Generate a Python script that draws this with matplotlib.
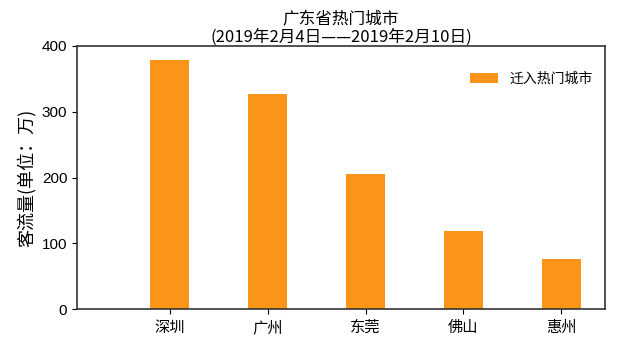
import matplotlib
matplotlib.use("Agg")
import matplotlib.pyplot as plt
import numpy as np

plt.rcParams['font.family'] = ['Noto Sans CJK SC', 'DejaVu Sans']
plt.rcParams['axes.unicode_minus'] = False

cities = ['深圳', '广州', '东莞', '佛山', '惠州']
visitors = [379, 327, 205, 119, 76]
yticks = [0, 100, 200, 300, 400]
title = '广东省热门城市\n(2019年2月4日——2019年2月10日)'
ylabel = '客流量(单位：万)'
legend_label = '迁入热门城市'

fig = plt.figure(figsize=(6.35, 3.45), dpi=100)
ax = fig.add_axes([0.1213, 0.1043, 0.8315, 0.7624])

x = np.arange(len(cities))
ax.bar(x, visitors, width=0.4, color='#FA951A', label=legend_label)

ax.set_xlim(-0.947, 4.446)
ax.set_ylim(0, 400)
ax.set_yticks(yticks)
ax.set_yticklabels([str(v) for v in yticks], fontsize=11,
                   family=['Liberation Sans', 'DejaVu Sans'])
ax.set_xticks(x)
ax.set_xticklabels(cities, fontsize=11)
ax.set_ylabel(ylabel, fontsize=13)
ax.set_title(title, fontsize=12, linespacing=1.05, pad=3)
for s in ax.spines.values():
    s.set_linewidth(1.2)
    s.set_color('#333333')

ax.legend(loc='upper right', frameon=False, fontsize=10,
          bbox_to_anchor=(1.0, 0.95), handlelength=2.0)

fig.savefig('out.png', dpi=100)
